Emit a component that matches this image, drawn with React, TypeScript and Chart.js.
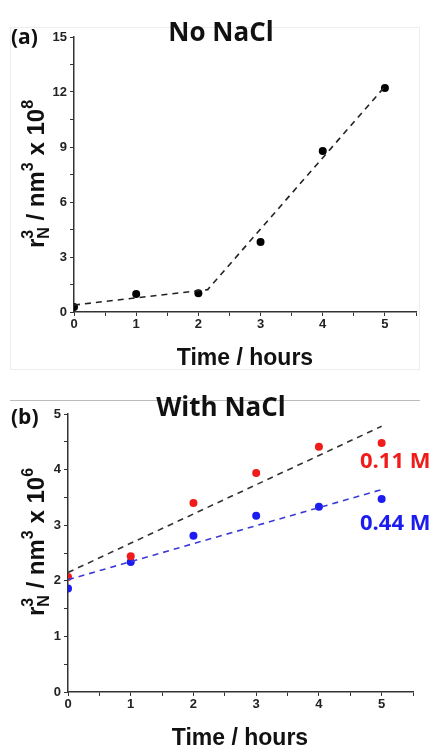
import React, { useEffect, useRef } from 'react';
import { Chart, registerables } from 'chart.js';

Chart.register(...registerables);

// ---------- data ----------
const hoursA = [0, 1, 2, 3, 4, 5];
const volumeA = [0.27, 0.98, 1.02, 3.82, 8.78, 12.22];
const fitAHours = [0, 2.15, 5];
const fitAVolume = [0.38, 1.22, 12.3];

const hoursB = [0, 1, 2, 3, 4, 5];
const volume011M = [2.07, 2.44, 3.4, 3.94, 4.41, 4.48];
const volume044M = [1.86, 2.34, 2.81, 3.17, 3.33, 3.47];
const fit011Hours = [0, 5];
const fit011Volume = [2.15, 4.78];
const fit044Hours = [0, 5];
const fit044Volume = [2.02, 3.64];

const xTickLabels = [0, 1, 2, 3, 4, 5];
const yTickLabelsA = [0, 3, 6, 9, 12, 15];
const yTickLabelsB = [0, 1, 2, 3, 4, 5];

// ---------- styles ----------
const ARIAL = "'Liberation Sans', Arial, sans-serif";
const CALIBRI = "'Open Sans', 'Noto Sans', sans-serif";
const RED = '#f01c1c';
const BLUE = '#1c1cf0';

const pts = (xs: number[], ys: number[]) => xs.map((x, i) => ({ x, y: ys[i] }));

type Seg = { t: string; size: number; dy?: number; stack?: Seg[] };

function drawRotatedTitle(ctx: CanvasRenderingContext2D, cx: number, cy: number, segs: Seg[]) {
  ctx.save();
  ctx.translate(cx, cy);
  ctx.rotate(-Math.PI / 2);
  ctx.fillStyle = '#111';
  ctx.textBaseline = 'alphabetic';
  ctx.textAlign = 'left';
  const width = (s: Seg): number => {
    if (s.stack) return Math.max(...s.stack.map(width));
    ctx.font = `bold ${s.size}px ${ARIAL}`;
    return ctx.measureText(s.t).width;
  };
  const total = segs.reduce((a, s) => a + width(s), 0);
  let x = -total / 2;
  for (const s of segs) {
    const w = width(s);
    const list = s.stack ? s.stack : [s];
    for (const p of list) {
      ctx.font = `bold ${p.size}px ${ARIAL}`;
      ctx.fillText(p.t, x, p.dy || 0);
    }
    x += w;
  }
  ctx.restore();
}

type TextItem = { text: string; x: number; y: number; font: string; color: string; align?: CanvasTextAlign };

function textPlugin(items: TextItem[], yTitle: { cx: number; cy: number; exp: string }) {
  return {
    id: 'panelText',
    afterDraw(chart: any) {
      const ctx: CanvasRenderingContext2D = chart.ctx;
      ctx.save();
      for (const it of items) {
        ctx.font = it.font;
        ctx.fillStyle = it.color;
        ctx.textAlign = it.align || 'left';
        ctx.textBaseline = 'alphabetic';
        ctx.fillText(it.text, it.x, it.y);
      }
      ctx.restore();
      drawRotatedTitle(ctx, yTitle.cx, yTitle.cy, [
        { t: 'r', size: 24 },
        { t: '', size: 16, stack: [{ t: 'N', size: 16, dy: 5 }, { t: '3', size: 16, dy: -11 }] },
        { t: ' / nm', size: 24 },
        { t: '3', size: 16, dy: -11 },
        { t: ' x 10', size: 24 },
        { t: yTitle.exp, size: 16, dy: -11 },
      ]);
    },
  };
}

function axisCommon(min: number, max: number, step: number, labels: number[], fitSize: number, isX: boolean) {
  return {
    type: 'linear',
    min,
    max,
    afterFit: (scale: any) => {
      if (isX) scale.height = fitSize;
      else scale.width = fitSize;
    },
    ticks: {
      stepSize: step,
      autoSkip: false,
      maxRotation: 0,
      padding: isX ? 1 : 3,
      color: '#222',
      font: { family: ARIAL, size: 13, weight: 'bold' },
      callback: (v: number) => (labels.some((l) => Math.abs(l - v) < 1e-9) ? String(v) : ''),
    },
    grid: {
      drawOnChartArea: false,
      drawTicks: true,
      tickLength: 4,
      color: '#333',
      lineWidth: 1,
    },
    border: { display: true, color: '#333', width: 1.5 },
  };
}

function scatterSet(xs: number[], ys: number[], color: string) {
  return {
    type: 'scatter',
    data: pts(xs, ys),
    pointRadius: 4,
    pointBackgroundColor: color,
    pointBorderWidth: 0,
    showLine: false,
  };
}

function fitSet(xs: number[], ys: number[], color: string) {
  return {
    type: 'line',
    data: pts(xs, ys),
    borderColor: color,
    borderWidth: 1.6,
    borderDash: [6, 5],
    pointRadius: 0,
    fill: false,
    tension: 0,
  };
}

function Panel(props: { config: any; width: number; height: number; top: number }) {
  const ref = useRef<HTMLCanvasElement | null>(null);
  useEffect(() => {
    if (!ref.current) return;
    const chart = new Chart(ref.current, props.config);
    return () => chart.destroy();
  }, []);
  return (
    <canvas
      ref={ref}
      width={props.width}
      height={props.height}
      style={{ position: 'absolute', left: 0, top: props.top, width: props.width, height: props.height }}
    />
  );
}

const baseOptions = {
  responsive: false,
  animation: false,
  devicePixelRatio: 1,
  plugins: { legend: { display: false }, tooltip: { enabled: false }, title: { display: false } },
};

const configA = {
  type: 'scatter',
  data: {
    datasets: [fitSet(fitAHours, fitAVolume, '#222'), scatterSet(hoursA, volumeA, '#000')],
  },
  options: {
    ...baseOptions,
    layout: { padding: { left: 0, top: 37, right: 18, bottom: 0 } },
    scales: {
      x: axisCommon(0, 5.5, 0.5, xTickLabels, 68, true),
      y: axisCommon(0, 15, 1.5, yTickLabelsA, 74, false),
    },
  },
  plugins: [
    textPlugin(
      [
        { text: '(a)', x: 11, y: 44, font: `bold 21px ${CALIBRI}`, color: '#111' },
        { text: 'No NaCl', x: 221, y: 41, font: `bold 26px ${CALIBRI}`, color: '#111', align: 'center' },
        { text: 'Time / hours', x: 245, y: 365, font: `bold 23px ${ARIAL}`, color: '#111', align: 'center' },
      ],
      { cx: 44, cy: 174, exp: '8' }
    ),
  ],
};

const configB = {
  type: 'scatter',
  data: {
    datasets: [
      fitSet(fit011Hours, fit011Volume, '#333'),
      fitSet(fit044Hours, fit044Volume, '#3b3bd8'),
      scatterSet(hoursB, volume011M, RED),
      scatterSet(hoursB, volume044M, BLUE),
    ],
  },
  options: {
    ...baseOptions,
    layout: { padding: { left: 0, top: 34, right: 21, bottom: 0 } },
    scales: {
      x: axisCommon(0, 5.5, 0.5, xTickLabels, 55, true),
      y: axisCommon(0, 5, 0.5, yTickLabelsB, 68, false),
    },
  },
  plugins: [
    textPlugin(
      [
        { text: '(b)', x: 11, y: 44, font: `bold 21px ${CALIBRI}`, color: '#111' },
        { text: 'With NaCl', x: 221, y: 36, font: `bold 26px ${CALIBRI}`, color: '#111', align: 'center' },
        { text: '0.11 M', x: 360, y: 88, font: `bold 22px ${CALIBRI}`, color: RED },
        { text: '0.44 M', x: 360, y: 150, font: `bold 22px ${CALIBRI}`, color: BLUE },
        { text: 'Time / hours', x: 240, y: 365, font: `bold 23px ${ARIAL}`, color: '#111', align: 'center' },
      ],
      { cx: 44, cy: 162, exp: '6' }
    ),
  ],
};

export default function App() {
  return (
    <div style={{ position: 'fixed', left: 0, top: 0, width: 434, height: 747, background: '#fff', overflow: 'hidden' }}>
      <div style={{ position: 'absolute', left: 10, top: 27, width: 410, height: 343, border: '1px solid #eee', boxSizing: 'border-box' }} />
      <div style={{ position: 'absolute', left: 10, top: 400, width: 410, height: 0, borderTop: '1px solid #bbb' }} />
      <Panel config={configA} width={434} height={380} top={0} />
      <Panel config={configB} width={434} height={367} top={380} />
    </div>
  );
}
